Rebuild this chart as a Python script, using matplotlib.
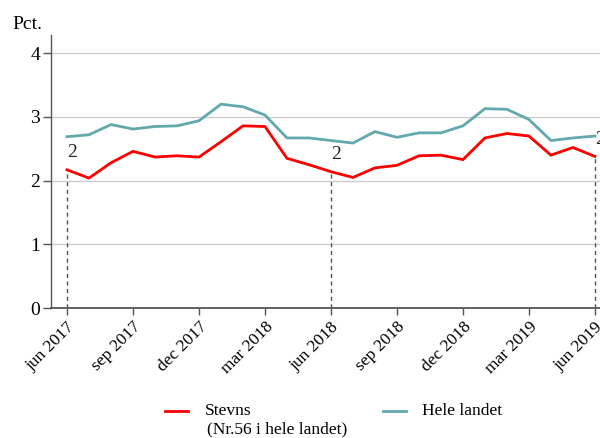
import numpy as np
import matplotlib
matplotlib.use("Agg")
import matplotlib.pyplot as plt
from matplotlib.lines import Line2D

plt.rcParams['font.family'] = ['Liberation Serif', 'DejaVu Serif']

# monthly values, jun 2017 .. jun 2019
months = ['jun 2017', 'jul 2017', 'aug 2017', 'sep 2017', 'okt 2017', 'nov 2017',
          'dec 2017', 'jan 2018', 'feb 2018', 'mar 2018', 'apr 2018', 'maj 2018',
          'jun 2018', 'jul 2018', 'aug 2018', 'sep 2018', 'okt 2018', 'nov 2018',
          'dec 2018', 'jan 2019', 'feb 2019', 'mar 2019', 'apr 2019', 'maj 2019',
          'jun 2019']
stevns = [2.17, 2.04, 2.28, 2.46, 2.37, 2.39, 2.37, 2.61, 2.86, 2.85, 2.35, 2.25,
          2.14, 2.05, 2.20, 2.24, 2.39, 2.40, 2.33, 2.67, 2.74, 2.70, 2.40, 2.52,
          2.38]
hele = [2.69, 2.72, 2.88, 2.81, 2.85, 2.86, 2.94, 3.20, 3.16, 3.03, 2.67, 2.67,
        2.63, 2.59, 2.77, 2.68, 2.75, 2.75, 2.86, 3.13, 3.12, 2.96, 2.63, 2.67,
        2.70]
marked = [0, 12, 24]   # months with a dashed marker line
tick_idx = [0, 3, 6, 9, 12, 15, 18, 21, 24]

red = '#ff0000'
teal = '#62a8ad'

x = np.arange(len(months))

fig = plt.figure(figsize=(6, 4.38), dpi=100)
ax = fig.add_axes([0.085, 0.2968, 0.915, 0.6232])

ax.plot(x, hele, color=teal, lw=2, solid_joinstyle='miter', zorder=3)
ax.plot(x, stevns, color=red, lw=2, solid_joinstyle='miter', zorder=4)

for i in marked:
    ax.plot([x[i], x[i]], [0, stevns[i]], color='#555555', lw=1,
            dashes=(3, 2.5), zorder=2)
    ax.text(x[i], stevns[i] + 0.27, f"{stevns[i]:.0f}", ha='left', va='center',
            fontsize=14, color='#222222', clip_on=False)

ax.set_xlim(-0.727, 24.23)
ax.set_ylim(0, 4.286)
ax.set_yticks([0, 1, 2, 3, 4])
ax.set_xticks(x[tick_idx])
ax.set_xticklabels([months[i] for i in tick_idx], rotation=45, ha='right',
                   rotation_mode='anchor', fontsize=12.5)
ax.tick_params(axis='y', labelsize=14, length=6, width=1, color='#555555', pad=2)
ax.tick_params(axis='x', length=5, width=1, color='#555555', pad=3)
ax.grid(axis='y', color='#cccccc', lw=1)
ax.set_axisbelow(True)
for s in ['top', 'right']:
    ax.spines[s].set_visible(False)
ax.spines['left'].set_color('#555555')
ax.spines['bottom'].set_color('#555555')
ax.spines['left'].set_linewidth(1)
ax.spines['bottom'].set_linewidth(1.3)

fig.text(0.02, 0.943, 'Pct.', fontsize=14, va='center', ha='left')

# legend drawn by hand
W, H = 600, 438
fig.add_artist(Line2D([165 / W, 188 / W], [1 - 411 / H] * 2, color=red, lw=2))
fig.text(205 / W, 1 - 411 / H, 'Stevns', fontsize=12.5, va='center')
fig.text(207 / W, 1 - 429 / H, '(Nr.56 i hele landet)', fontsize=12.5, va='center')
fig.add_artist(Line2D([383 / W, 406 / W], [1 - 411 / H] * 2, color=teal, lw=2))
fig.text(422 / W, 1 - 411 / H, 'Hele landet', fontsize=12.5, va='center')

fig.savefig('out.png', dpi=100)
